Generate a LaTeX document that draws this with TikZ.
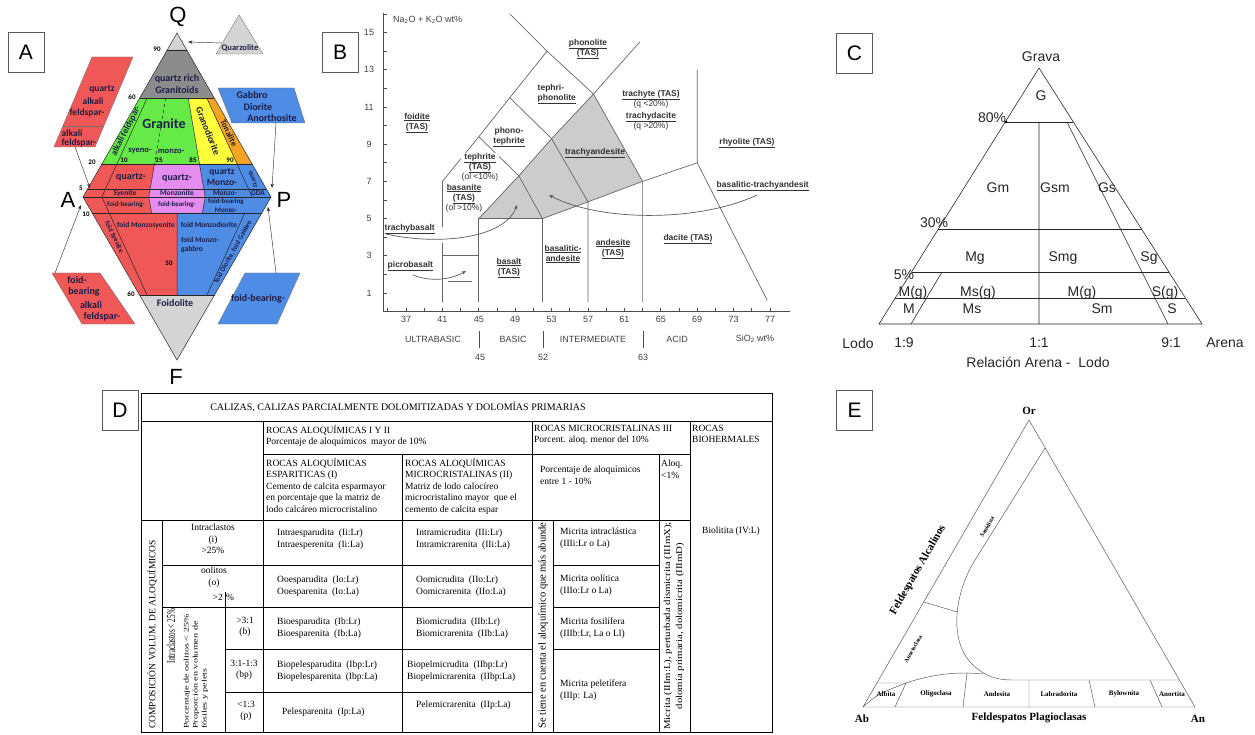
\documentclass[tikz,border=0pt]{standalone}
\usepackage{fontspec}
\usepackage{graphicx}
\setmainfont{Liberation Serif}
\setsansfont{Liberation Sans}
\newfontfamily\calfont{Carlito}
\usetikzlibrary{arrows.meta}
\newcommand\fsz[2]{\fontsize{#1}{#2}\selectfont}
\definecolor{qred}{RGB}{240,88,88}
\definecolor{qpink}{RGB}{228,140,240}
\definecolor{qblue}{RGB}{78,140,230}
\definecolor{qgreen}{RGB}{102,234,72}
\definecolor{qyellow}{RGB}{255,255,60}
\definecolor{qorange}{RGB}{244,164,36}
\definecolor{qdark}{RGB}{140,140,140}
\definecolor{qlight}{RGB}{212,212,212}
\definecolor{qtext}{RGB}{30,30,70}
\definecolor{tasgray}{RGB}{204,204,204}
\tikzset{
  panelbox/.style={draw=black!65,line width=0.8pt,minimum width=36pt,minimum height=40pt,inner sep=0pt,font=\sffamily\fsz{21}{24}},
  bigletter/.style={font=\sffamily\fsz{22}{24},inner sep=0pt},
  qline/.style={draw=black!85,line width=0.5pt},
  qpar/.style={draw=black!55,line width=0.4pt},
  qarrow/.style={->,draw=black!80,line width=0.45pt},
  qlbl/.style={font=\calfont\bfseries\fsz{10}{11.5},text=qtext,inner sep=0pt,align=center},
  qsmall/.style={qlbl,font=\calfont\bfseries\fsz{7.5}{9}},
  qnum/.style={font=\calfont\bfseries\fsz{7}{8},inner sep=0pt},
  tasline/.style={draw=black!60,line width=0.7pt},
  tasaxis/.style={draw=black!70,line width=0.7pt},
  tasarrow/.style={->,draw=black!65,line width=0.7pt},
  tlbl/.style={font=\sffamily\bfseries\fsz{8.5}{10},text=black!80,inner sep=0.5pt,align=center},
  tnum/.style={font=\sffamily\fsz{9}{10},text=black!75,inner sep=0pt},
  cline/.style={draw=black!85,line width=0.6pt},
  clbl/.style={font=\sffamily\fsz{14}{16},text=black!85,inner sep=0pt},
  dgrid/.style={draw=black,line width=0.8pt},
  dtx/.style={font=\rmfamily\fsz{9.5}{11.5},inner sep=0pt,align=left},
  dcell/.style={dtx,anchor=west},
  elin/.style={draw=black!70,line width=0.45pt},
  eb/.style={font=\rmfamily\bfseries\fsz{11}{12},inner sep=0pt},
  es/.style={font=\rmfamily\bfseries\fsz{7}{8},inner sep=0pt},
}
\begin{document}
\begin{tikzpicture}[x=1pt,y=-1pt,>={Stealth[length=4.5pt,width=3.5pt]}]
\useasboundingbox (0,0) rectangle (1255,735);

% A: QAPF
\node[panelbox] (boxA) at (26,52.5) {A};
\fill[qlight] (177,33) -- (186.75,50) -- (167.25,50) -- cycle;
\fill[qdark] (167.25,50) -- (186.75,50) -- (214.25,98) -- (139.75,98) -- cycle;
\fill[qgreen] (139.75,98) -- (188.2,98) -- (199.5,164) -- (101.9,164) -- cycle;
\fill[qyellow] (188.2,98) -- (206.8,98) -- (237.1,164) -- (199.5,164) -- cycle;
\fill[qorange] (206.8,98) -- (214.25,98) -- (252.1,164) -- (237.1,164) -- cycle;
\fill[qred] (101.9,164) -- (154.5,164) -- (148.8,197) -- (151.6,213) -- (92.2,213) -- (83,197) -- cycle;
\fill[qpink] (154.5,164) -- (199.5,164) -- (205.2,197) -- (202.4,213) -- (151.6,213) -- (148.8,197) -- cycle;
\fill[qblue] (199.5,164) -- (252.1,164) -- (271,197) -- (261.8,213) -- (202.4,213) -- (205.2,197) -- cycle;
\fill[qred] (92.2,213) -- (177,213) -- (177,295) -- (139.5,295) -- cycle;
\fill[qblue] (177,213) -- (261.8,213) -- (214.5,295) -- (177,295) -- cycle;
\fill[qlight] (139.5,295) -- (214.5,295) -- (177,360) -- cycle;
\draw[qline] (177,33) -- (271,197) -- (177,360) -- (83,197) -- cycle;
\foreach \ya/\xa/\xb in {50/167.25/186.75,98/139.75/214.25,164/101.9/252.1,189/87.6/266.4,197/83/271,213/92.2/261.8,295/139.5/214.5}
  \draw[qline] (\xa,\ya) -- (\xb,\ya);
\draw[qline] (147.2,98) -- (101.8,197) -- (147,295);
\draw[qline,dashed] (165.8,98) -- (154.5,164);
\draw[qline] (154.5,164) -- (148.8,197) -- (151.6,213);
\draw[qline] (188.2,98) -- (205.2,197) -- (202.4,213);
\draw[qline] (206.8,98) -- (252.2,197);
\draw[qline] (177,213) -- (177,295) (244.8,213) -- (207,295);

\filldraw[fill=qred,qpar] (92,57) -- (133,57) -- (95,147) -- (54,147) -- cycle;
\draw[qpar] (62.9,126) -- (103.9,126);
\filldraw[fill=qlight,qpar] (239,15) -- (263,54) -- (216,54) -- cycle;
\filldraw[fill=qblue,qpar] (218,88) -- (294,88) -- (305,123) -- (232,123) -- cycle;
\filldraw[fill=qred,qpar] (52,273) -- (100,273) -- (135,324) -- (82,324) -- cycle;
\filldraw[fill=qblue,qpar] (245,273) -- (300,273) -- (277,324) -- (218,324) -- cycle;

\coordinate (qzS) at (222,43); \coordinate (qzT) at (188,42);
\coordinate (akS) at (75,147); \coordinate (akT) at (90,188);
\coordinate (gbS) at (276,123); \coordinate (gbT) at (272,188);
\coordinate (fkS) at (55,273); \coordinate (fkT) at (81,205);
\coordinate (fbS) at (276,273); \coordinate (fbT) at (268,207);
\draw[qarrow] (qzS) -- (qzT);
\draw[qarrow] (akS) -- (akT);
\draw[qarrow] (gbS) -- (gbT);
\draw[qarrow] (fkS) -- (fkT);
\draw[qarrow] (fbS) -- (fbT);

\node[bigletter] (lQ) at (178,17) {Q};
\node[bigletter] (lA) at (68,200) {A};
\node[bigletter] (lP) at (284,200) {P};
\node[bigletter] (lF) at (176,377) {F};

\node[qlbl] (qrich) at (177,84) {quartz rich\\Granitoids};
\node[qlbl,font=\calfont\bfseries\fsz{14}{15}] (granite) at (164,124) {Granite};
\node[qlbl,rotate=63,font=\calfont\bfseries\fsz{9}{10}] (akfs) at (126,131) {alkali feldspar-};
\node[qlbl,font=\calfont\bfseries\fsz{8.5}{10}] (syeno) at (140,151) {syeno-};
\node[qlbl,font=\calfont\bfseries\fsz{8.5}{10}] (monzo) at (171,151) {monzo-};
\node[qlbl,rotate=-68,font=\calfont\bfseries\fsz{9.5}{10}] (grd) at (208,131) {Granodiorite};
\node[qlbl,font=\calfont\bfseries\fsz{8.5}{10},rotate=-64] (ton) at (229,133) {Tonalite};
\foreach \n/\x/\y/\t in {n90/157/49/90,n60a/132/97/60,n20/92/162/20,n10a/124/160/10,n25/159/160/25,n85/193/160/85,n90b/230/160/90,n5/81/188/5,n10b/86/214/10,n50/169/263/50,n60b/131/294/60}
  \node[qnum] (\n) at (\x,\y) {\t};
\node[qlbl] (qz1) at (131,177) {quartz-};
\node[qlbl] (qz2) at (177,178) {quartz-};
\node[qlbl,font=\calfont\bfseries\fsz{9.5}{11}] (qz3) at (222,177) {quartz\\Monzo-};
\node[qsmall,rotate=-72,font=\calfont\bfseries\fsz{6.5}{7}] (qz4) at (253,179) {quartz};
\node[qsmall] (sy) at (125,193) {Syenite};
\node[qsmall] (mz) at (177,193) {Monzonite};
\node[qsmall] (mzd) at (225,193) {Monzo-};
\node[qsmall] (gda) at (258,193) {GDA};
\node[qsmall,font=\calfont\bfseries\fsz{7}{8}] (fb1) at (126,205) {foid-bearing-};
\node[qsmall,font=\calfont\bfseries\fsz{7}{8}] (fb2) at (177,205) {foid-bearing-};
\node[qsmall,font=\calfont\bfseries\fsz{7}{8.5}] (fb3) at (226,205.5) {foid-bearing\\Monzo-};
\node[qsmall,rotate=-64,font=\calfont\bfseries\fsz{7}{8}] (fsy) at (114,237) {foid Syenite};
\node[qsmall] (fmzs) at (146,225) {foid Monzosyenite};
\node[qsmall] (fmzd) at (209,225) {foid Monzodiorite};
\node[qsmall,anchor=west,align=left] (fmzg) at (181,245) {foid Monzo-\\gabbro};
\node[qsmall,rotate=61,font=\calfont\bfseries\fsz{7}{8}] (fdg) at (233,252) {foid Diorite, foid Gabbro};
\node[qlbl] (foido) at (175,303) {Foidolite};
\node[qlbl,font=\calfont\bfseries\fsz{8.5}{9}] (quarz) at (240,48) {Quarzolite};
\node[qlbl,font=\calfont\bfseries\fsz{9.5}{10}] (pk1) at (102,89) {quartz};
\node[qlbl,font=\calfont\bfseries\fsz{9.5}{10}] (pk2) at (93,101) {alkali};
\node[qlbl,font=\calfont\bfseries\fsz{9.5}{10}] (pk3) at (87,113) {feldspar-};
\node[qlbl,font=\calfont\bfseries\fsz{9.5}{10}] (pk4) at (72,133) {alkali};
\node[qlbl,font=\calfont\bfseries\fsz{9.5}{10}] (pk5) at (79,143) {feldspar-};
\node[qlbl] (pg1) at (252,95) {Gabbro};
\node[qlbl] (pg2) at (258,107) {Diorite};
\node[qlbl] (pg3) at (272,118) {Anorthosite};
\node[qlbl] (pf1) at (77,280) {foid-};
\node[qlbl] (pf2) at (84,292) {bearing};
\node[qlbl] (pf3) at (91,305) {alkali};
\node[qlbl] (pf4) at (102,317) {feldspar-};
\node[qlbl] (pfb) at (258,299) {foid-bearing-};

% B: TAS
\node[panelbox] (boxB) at (340,52.5) {B};
\begin{scope}[shift={(69.3,311.6)},x=9.1pt,y=18.6pt]
\fill[tasgray] (45,5) -- (52,5) -- (57,5.9) -- (63,7) -- (57.6,11.7) -- (53,9.3) -- (49.4,7.3) -- cycle;
\draw[tasaxis] (34.5,16.05) -- (34.5,0) -- (79.2,0);
\foreach \v in {1,...,16} \draw[tasaxis] (34.5,\v) -- (34.94,\v);
\foreach \s in {35,37,...,77} \draw[tasaxis] (\s,0) -- (\s,0.22);
\draw[tasline] (41,0.5) -- (41,3.7) (41,4.55) -- (41,7) -- (45,9.4) -- (48.4,11.5) -- (52.5,14);
\draw[tasline] (41,3) -- (45,3) (41.6,1.6) -- (44.2,1.6);
\draw[tasline] (45,0.5) -- (45,5) -- (52,5) -- (52,0.5);
\draw[tasline] (52,5) -- (57,5.9) -- (63,7) -- (69,8) -- (69,13);
\draw[tasline] (57,0.5) -- (57,5.9) (63,0.5) -- (63,7) (69,8) -- (76.7,0.6);
\draw[tasline] (45,5) -- (49.4,7.3) -- (53,9.3) -- (57.6,11.7) -- (63,7);
\draw[tasline] (45,9.4) -- (49.4,7.3) -- (52,5) (48.4,11.5) -- (53,9.3) -- (57,5.9);
\draw[tasline] (48.4,16) -- (52.5,14) -- (57.6,11.7) -- (62.7,14.5);
\end{scope}
\foreach \v in {1,3,...,15} \node[tnum] (yl\v) at (369,{311.6-18.6*\v}) {\v};
\foreach \s in {37,41,...,77} \node[tnum] (xl\s) at ({9.1*\s+69.3},319) {\s};
\node[tnum,anchor=west] (tasy) at (393,20) {Na\textsubscript{2}O + K\textsubscript{2}O wt\%};
\node[tnum] (ub) at (433,339) {ULTRABASIC};
\node[tnum] (bs) at (513,339) {BASIC};
\node[tnum] (im) at (593,339) {INTERMEDIATE};
\node[tnum] (ac) at (677,339) {ACID};
\node[tnum] (si) at (755,339) {SiO\textsubscript{2} wt\%};
\draw[tasaxis] (479,331) -- (479,348) (543,331) -- (543,348) (643,331) -- (643,348);
\node[tnum] (b45) at (480,357) {45};
\node[tnum] (b52) at (543,357) {52};
\node[tnum] (b63) at (643,357) {63};

\node[tlbl] (foid) at (417,123) {\underline{foidite}\\\underline{(TAS)}};
\node[tlbl] (phte) at (509,137) {phono-\\\underline{tephrite}};
\node[tlbl,anchor=west,align=left] (teph) at (537,94) {tephri-\\\underline{phonolite}};
\node[tlbl] (phon) at (588,49) {\underline{phonolite}\\\underline{(TAS)}};
\node[tlbl,fill=white] (tephr) at (480,167) {\underline{tephrite}\\\underline{(TAS)}\\\mdseries(ol <10\%)};
\node[tlbl] (basan) at (464,198) {\underline{basanite}\\\underline{(TAS)}\\\mdseries(ol >10\%)};
\node[tlbl] (trte) at (651,110) {\underline{trachyte (TAS)}\\\mdseries(q <20\%)\\[2pt]\underline{trachydacite}\\\mdseries(q >20\%)};
\node[tlbl] (tran) at (595,153) {\underline{trachyandesite}};
\node[tlbl] (rhyo) at (747,143) {\underline{rhyolite (TAS)}};
\node[tlbl,anchor=west] (btra) at (716,186) {\underline{basalitic-trachyandesit}};
\node[tlbl,anchor=west] (trba) at (384,229) {\underline{trachybasalt}};
\node[tlbl,anchor=west] (picb) at (387,266) {\underline{picrobasalt}};
\node[tlbl] (bslt) at (509,268) {\underline{basalt}\\\underline{(TAS)}};
\node[tlbl] (bsan) at (563,254) {\underline{basalitic-}\\\underline{andesite}};
\node[tlbl] (ande) at (613,249) {\underline{andesite}\\\underline{(TAS)}};
\node[tlbl] (daci) at (688,239) {\underline{dacite (TAS)}};
\coordinate (tbS) at (386,234); \coordinate (tbT) at (517,205);
\coordinate (pbS) at (413,275); \coordinate (pbT) at (466,271);
\coordinate (btS) at (757,195); \coordinate (btT) at (549,195);
\draw[tasarrow] (tbS) .. controls (440,246) and (505,238) .. (tbT);
\draw[tasarrow] (pbS) .. controls (430,282) and (450,280) .. (pbT);
\draw[tasarrow] (btS) .. controls (700,222) and (600,222) .. (btT);

% C: gravel ternary
\node[panelbox] (boxC) at (854.5,53) {C};
\draw[cline] (1039,68) -- (1202,324) -- (879,324) -- cycle;
\draw[cline] (1005.25,122) -- (1073.4,122) (938.4,229) -- (1141.5,229) (911.5,272) -- (1168.9,272) (895.25,298) -- (1185.4,298);
\draw[cline] (1039,122) -- (1039,324) (1067,122) -- (1168,324) (942,272) -- (911,324);
\fill (1006,122) circle (1.5);
\foreach \n/\x/\y/\t in {cGr/1041/57/Grava,cG/1041/96/G,c80/992/118/80\%,cGm/998/188/Gm,cGsm/1055/188/Gsm,cGs/1107/188/Gs,c30/934/223/30\%,cMg/975/258/Mg,cSmg/1063/258/Smg,cSg/1149/258/Sg,c5/904/275/5\%,cMgA/913/293/M(g),cMsg/978/293/Ms(g),cMgB/1082/293/M(g),cSgB/1165/293/S(g),cM/909/309/M,cMs/972/309/Ms,cSm/1102/309/Sm,cS/1172/309/S,cLodo/858/343/Lodo,c19/904/343/1:9,c11/1039/343/1:1,c91/1171/343/9:1,cAr/1225/343/Arena}
  \node[clbl] (\n) at (\x,\y) {\t};
\node[clbl] (crel) at (1038,362) {Relación Arena -~ Lodo};

% D: table
\node[panelbox] (boxD) at (120,410) {D};
\draw[dgrid,line width=1pt] (141,393) rectangle (772,732);
\draw[dgrid] (141,421) -- (772,421) (263,421) -- (263,732) (532,421) -- (532,732) (690,421) -- (690,732) (263,454) -- (690,454) (402,454) -- (402,732) (659,454) -- (659,732) (141,520) -- (690,520) (162,520) -- (162,732) (553,520) -- (553,732);
\draw[dgrid] (162,565) -- (532,565) (553,565) -- (659,565) (162,607) -- (532,607) (553,607) -- (659,607) (225,592) -- (225,732) (225,649) -- (532,649) (553,649) -- (659,649) (225,692) -- (532,692);
\node[dtx,font=\rmfamily\fsz{10}{12}] (dtitle) at (398,407) {CALIZAS, CALIZAS PARCIALMENTE DOLOMITIZADAS Y DOLOMÍAS PRIMARIAS};
\node[dtx,anchor=north west] (dh1) at (266,425) {ROCAS ALOQUÍMICAS I Y II\\Porcentaje de aloquímicos~ mayor de 10\%};
\node[dtx,anchor=north west] (dh2) at (534,425) {ROCAS MICROCRISTALINAS III\\Porcent. aloq. menor del 10\%};
\node[dtx,anchor=north west] (dh3) at (692,425) {ROCAS\\BIOHERMALES};
\node[dtx,anchor=north west] (dh4) at (266,458) {ROCAS ALOQUÍMICAS\\ESPARITICAS (I)\\Cemento de calcita esparmayor\\en porcentaje que la matriz de\\lodo calcáreo microcristalino};
\node[dtx,anchor=north west] (dh5) at (405,458) {ROCAS ALOQUÍMICAS\\MICROCRISTALINAS (II)\\Matriz de lodo calocíreo\\microcristalino mayor~ que el\\cemento de calcita espar};
\node[dtx,anchor=north west] (dh6) at (540,466) {Porcentaje de aloquímicos\\entre 1 - 10\%};
\node[dtx,anchor=north west] (dh7) at (661,460) {Aloq.\\<1\%};
\node[dtx,align=center] (dr1) at (213,539) {Intraclastos\\(i)\\>25\%};
\node[dtx,align=center] (dr2) at (214,577) {oolitos\\(o)};
\node[dtx,anchor=east] (dr2a) at (223,597) {>2};
\node[dtx,anchor=west] (dr2b) at (226,597) {\%};
\node[dtx,align=center] (dr3) at (245,627) {>3:1\\(b)};
\node[dtx,align=center] (dr4) at (244,670) {3:1-1:3\\(bp)};
\node[dtx,align=center] (dr5) at (246,711) {<1:3\\(p)};
\node[dcell] (di1) at (277,539) {Intraesparudita~~(Ii:Lr)\\Intraesperenita~~(Ii:La)};
\node[dcell] (di2) at (277,586) {Ooesparudita~~(Io:Lr)\\Ooesparenita~~(Io:La)};
\node[dcell] (di3) at (277,628) {Bioesparudita~~(Ib:Lr)\\Bioesparenita~~(Ib:La)};
\node[dcell] (di4) at (277,671) {Biopelesparudita~~(Ibp:Lr)\\Biopelesparenita~~(Ibp:La)};
\node[dcell] (di5) at (282,712) {Pelesparenita~~(Ip:La)};
\node[dcell] (dm1) at (416,539) {Intramicrudita~~(IIi:Lr)\\Intramicrarenita~~(IIi:La)};
\node[dcell] (dm2) at (416,586) {Oomicrudita~~(IIo:Lr)\\Oomicrarenita~~(IIo:La)};
\node[dcell] (dm3) at (416,628) {Biomicrudita~~(IIb:Lr)\\Biomicrarenita~~(IIb:La)};
\node[dcell] (dm4) at (407,671) {Biopelmicrudita~~(IIbp:Lr)\\Biopelmicrarenita~~(IIbp:La)};
\node[dcell] (dm5) at (416,705) {Pelemicrarenita~~(IIp:La)};
\node[dcell] (dc1) at (560,538) {Micrita intraclástica\\(IIIi:Lr o La)};
\node[dcell] (dc2) at (560,585) {Micrita oolítica\\(IIIo:Lr o La)};
\node[dcell] (dc3) at (560,628) {Micrita fosilífera\\(IIIb:Lr, La o Ll)};
\node[dcell] (dc4) at (560,690) {Micrita peletífera\\(IIIp: La)};
\node[dtx] (dbio) at (731,531) {Biolitita (IV:L)};
\node[dtx,rotate=90,anchor=west] (dcomp) at (152,729) {COMPOSICIÓN VOLUM. DE ALOQUÍMICOS};
\node[dtx,rotate=90,anchor=west,font=\rmfamily\fsz{10.5}{12}] (dse) at (543,729) {Se tiene en cuenta el aloquímico que más abunde};
\node[dtx,rotate=90,font=\rmfamily\fsz{12}{13}] (dint) at (171,636) {\scalebox{0.6}[1]{Intraclastos < 25\%}};
\node[dtx,rotate=90,anchor=west,font=\rmfamily\fsz{7}{8}] (dp1) at (187,729) {\scalebox{1.45}[1]{Porcentaje de oolitos < 25\%}};
\node[dtx,rotate=90,anchor=west,font=\rmfamily\fsz{7}{8}] (dp2) at (196,729) {\scalebox{1.45}[1]{Proporción en volumen de}};
\node[dtx,rotate=90,anchor=west,font=\rmfamily\fsz{7}{8}] (dp3) at (205,729) {\scalebox{1.45}[1]{fósiles y pelets}};
\node[dtx,rotate=90,align=center,font=\rmfamily\fsz{9}{12}] (dmic) at (674,626) {\scalebox{1.2}[1]{Micrita (IIIm:L), perturbada dismicrita (IIImX);}\\\scalebox{1.2}[1]{dolomía primaria, dolomicrita (IIImD)}};

% E: feldspar ternary
\node[panelbox] (boxE) at (854.5,410.5) {E};
\draw[elin] (1029,420) -- (1195,707) -- (863,707) -- cycle;
\draw[elin] (877,683) -- (906,683) .. controls (930,675) and (955,671) .. (983,674);
\draw[elin] (1045,448) -- (975,560) .. controls (955,592) and (948,640) .. (972,664) .. controls (985,677) and (998,680) .. (1012,680) -- (1179.5,680);
\draw[elin] (924,602) -- (957,612);
\draw[elin] (906,683) -- (895,707) (967,673) -- (963,707) (1029,680) -- (1029,707) (1089,680) -- (1095,707) (1150,680) -- (1162,707);
\draw[elin] (863,707) .. controls (878,694) .. (906,683);
\node[eb] (eOr) at (1029,411) {Or};
\node[eb] (eAb) at (862,719) {Ab};
\node[eb] (eAn) at (1198,719) {An};
\node[eb] (ePl) at (1029,718) {Feldespatos Plagioclasas};
\node[eb,rotate=60] (eAl) at (918,570) {Feldespatos Alcalinos};
\foreach \n/\x/\t in {eAlb/886/Albita,eOli/936/Oligoclasa,eAnd/997/Andesita,eLab/1059/Labradorita,eByt/1124/Bylownita,eAnt/1172/Anortita}
  \node[es] (\n) at (\x,694) {\t};
\node[es,rotate=60,font=\rmfamily\bfseries\fsz{6}{7}] (eSan) at (987,527) {Sanidina};
\node[es,rotate=61,font=\rmfamily\bfseries\fsz{6}{7}] (eAno) at (913,649) {Anortoclasa};
\end{tikzpicture}
\end{document}
